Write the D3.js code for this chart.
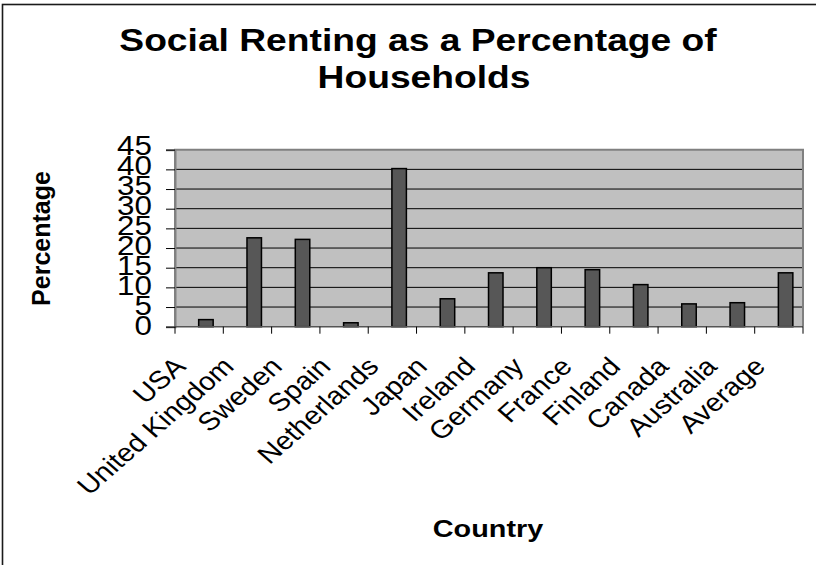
<!DOCTYPE html>
<html>
<head>
<meta charset="utf-8">
<script src="https://cdn.jsdelivr.net/npm/d3@7"></script>
<style>
  html, body { margin: 0; padding: 0; background: #fff; }
  svg { display: block; font-family: "Liberation Sans", Arial, sans-serif; }
</style>
</head>
<body>
<svg id="chart" width="816" height="565"></svg>
<script>
// Social renting share of households, by country
const countries = ["USA", "United Kingdom", "Sweden", "Spain", "Netherlands", "Japan",
  "Ireland", "Germany", "France", "Finland", "Canada", "Australia", "Average"];
const percentages = [1.8, 22.6, 22.2, 1.0, 40.2, 7.1, 13.7, 15.0, 14.5, 10.7, 5.8, 6.1, 13.7];
const yTicks = [0, 5, 10, 15, 20, 25, 30, 35, 40, 45];

const svg = d3.select("#chart");

// page frame
svg.append("rect")
  .attr("x", 2.5).attr("y", 4.5)
  .attr("width", 900).attr("height", 900)
  .attr("fill", "none").attr("stroke", "#1a1a1a").attr("stroke-width", 1.6);

const plot = { left: 175, right: 803, top: 149.7, bottom: 326.7 };

const x = d3.scaleBand().domain(countries).range([plot.left, plot.right]).padding(0);
const y = d3.scaleLinear().domain([0, 45]).range([plot.bottom, plot.top]);

// plot background
svg.append("rect")
  .attr("x", plot.left).attr("y", plot.top)
  .attr("width", plot.right - plot.left).attr("height", plot.bottom - plot.top)
  .attr("fill", "#c0c0c0");

// horizontal gridlines
svg.append("g").selectAll("line")
  .data(yTicks.filter(t => t > 0 && t < 45))
  .join("line")
  .attr("x1", plot.left).attr("x2", plot.right)
  .attr("y1", d => y(d)).attr("y2", d => y(d))
  .attr("stroke", "#000").attr("stroke-width", 1);

// plot border (top, right, left in grey)
svg.append("path")
  .attr("d", `M${plot.left},${plot.bottom} V${plot.top} H${plot.right} V${plot.bottom}`)
  .attr("fill", "none").attr("stroke", "#808080").attr("stroke-width", 2);

// bars
svg.append("g").selectAll("rect")
  .data(countries.map((c, i) => ({ c, v: percentages[i] })))
  .join("rect")
  .attr("x", d => x(d.c) + x.bandwidth() * 0.49)
  .attr("width", x.bandwidth() * 0.3)
  .attr("y", d => y(d.v))
  .attr("height", d => y(0) - y(d.v))
  .attr("fill", "#575757")
  .attr("stroke", "#000").attr("stroke-width", 1.5);

// y axis
const yAxis = svg.append("g")
  .attr("transform", `translate(${plot.left},0)`)
  .call(d3.axisLeft(y).tickValues(yTicks).tickSize(9).tickFormat(""));
yAxis.select(".domain").attr("stroke", "#808080").attr("stroke-width", 2);
yAxis.selectAll(".tick line").attr("stroke", "#000");

svg.append("g").selectAll("text")
  .data(yTicks)
  .join("text")
  .attr("transform", d => `translate(152,${y(d) + 8 - d * 0.05}) scale(1.12,1)`)
  .attr("text-anchor", "end")
  .attr("font-size", 28)
  .attr("fill", "#000")
  .text(d => d);

// x axis line and boundary ticks
svg.append("line")
  .attr("x1", plot.left).attr("x2", plot.right)
  .attr("y1", plot.bottom).attr("y2", plot.bottom)
  .attr("stroke", "#555").attr("stroke-width", 1.5);

const bounds = countries.map(c => x(c)).concat([x.range()[1]]);
svg.append("g").selectAll("line")
  .data(bounds)
  .join("line")
  .attr("x1", d => d).attr("x2", d => d)
  .attr("y1", plot.bottom).attr("y2", plot.bottom + 7)
  .attr("stroke", "#000").attr("stroke-width", 1);

// category labels, slanted
svg.append("g").selectAll("text")
  .data(countries)
  .join("text")
  .attr("transform", d => `translate(${x(d) + x.bandwidth() / 2 - 12},368) scale(1.14,1) rotate(-45)`)
  .attr("text-anchor", "end")
  .attr("font-size", 25.5)
  .attr("fill", "#000")
  .text(d => d);

// titles
svg.append("text")
  .attr("transform", "translate(418,51) scale(1.2,1)")
  .attr("text-anchor", "middle")
  .attr("font-size", 31).attr("font-weight", "bold")
  .text("Social Renting as a Percentage of");
svg.append("text")
  .attr("transform", "translate(424,88) scale(1.2,1)")
  .attr("text-anchor", "middle")
  .attr("font-size", 31).attr("font-weight", "bold")
  .text("Households");

svg.append("text")
  .attr("transform", "translate(488,537) scale(1.2,1)")
  .attr("text-anchor", "middle")
  .attr("font-size", 24).attr("font-weight", "bold")
  .text("Country");

svg.append("text")
  .attr("transform", "translate(50,238.5) rotate(-90)")
  .attr("text-anchor", "middle")
  .attr("font-size", 25).attr("font-weight", "bold")
  .text("Percentage");
</script>
</body>
</html>
